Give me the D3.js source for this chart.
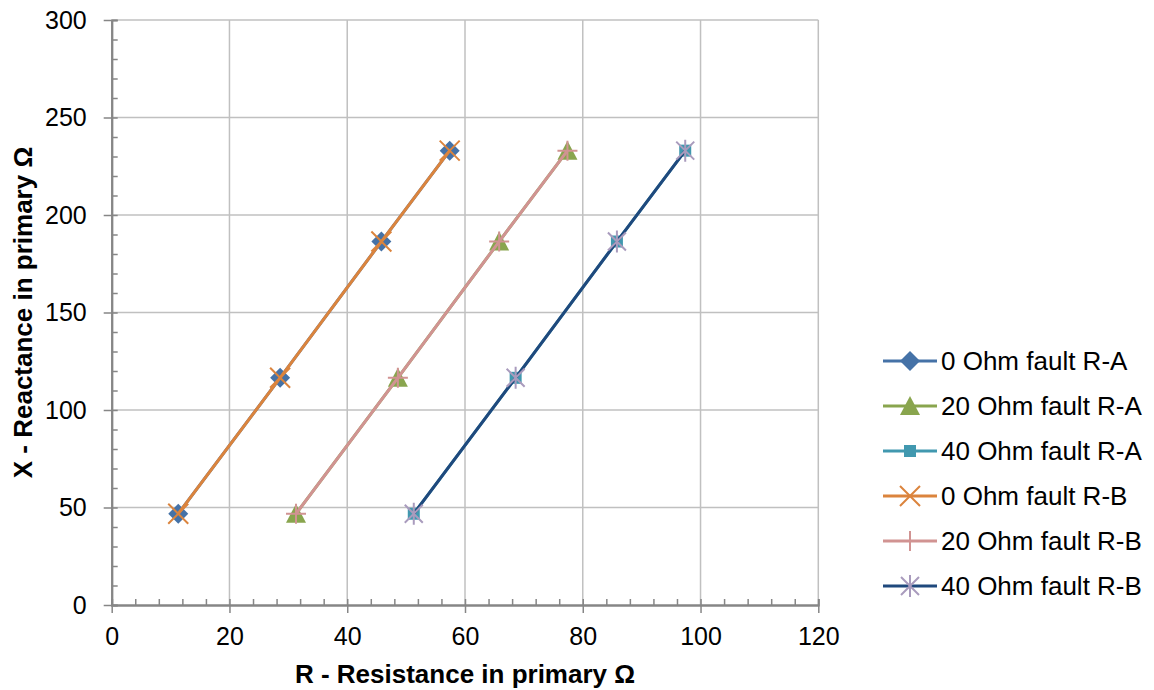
<!DOCTYPE html>
<html>
<head>
<meta charset="utf-8">
<title>Fault impedance R-X</title>
<script src="https://cdn.jsdelivr.net/npm/d3@7"></script>
<style>
  body { margin: 0; background: #fff; }
  text { font-family: "Liberation Sans", Arial, sans-serif; fill: #000; }
</style>
</head>
<body>
<div id="chart"></div>
<script>
// X reactance values shared by all measurement points
var xReact = [46.8, 116.5, 186.4, 233.0];

// resistance values per series
var r0A  = [11.3, 28.6, 45.8, 57.4];
var r20A = [31.3, 48.6, 65.8, 77.4];
var r40A = [51.3, 68.6, 85.8, 97.4];
var r0B  = [11.3, 28.6, 45.8, 57.4];
var r20B = [31.3, 48.6, 65.8, 77.4];
var r40B = [51.3, 68.6, 85.8, 97.4];

var seriesNames = ["0 Ohm fault R-A", "20 Ohm fault R-A", "40 Ohm fault R-A",
                   "0 Ohm fault R-B", "20 Ohm fault R-B", "40 Ohm fault R-B"];
var seriesR = [r0A, r20A, r40A, r0B, r20B, r40B];
var lineColors   = ["#4572A7", "#89A54E", "#4198AF", "#DB843D", "#D19392", "#1F497D"];
var markerColors = ["#4572A7", "#89A54E", "#4198AF", "#DB843D", "#D19392", "#A99BBD"];
var markerTypes  = ["diamond", "triangle", "square", "x", "plus", "star"];

var xMajor = [0, 20, 40, 60, 80, 100, 120];
var yMajor = [0, 50, 100, 150, 200, 250, 300];

var width = 1154, height = 690;
var plotL = 111.7, plotR = 818.3, plotT = 20, plotB = 605;

var svg = d3.select("#chart").append("svg")
    .attr("width", width)
    .attr("height", height);

var x = d3.scaleLinear().domain([0, 120]).range([plotL, plotR]);
var y = d3.scaleLinear().domain([0, 300]).range([plotB, plotT]);

// gridlines
svg.append("g").selectAll("line")
    .data(xMajor.filter(function(d) { return d > 0; }))
  .enter().append("line")
    .attr("x1", function(d) { return x(d); })
    .attr("x2", function(d) { return x(d); })
    .attr("y1", plotT).attr("y2", plotB)
    .style("stroke", "#c0c0c0").style("stroke-width", 1.5);
svg.append("g").selectAll("line")
    .data(yMajor.filter(function(d) { return d > 0; }))
  .enter().append("line")
    .attr("x1", plotL).attr("x2", plotR)
    .attr("y1", function(d) { return y(d); })
    .attr("y2", function(d) { return y(d); })
    .style("stroke", "#c0c0c0").style("stroke-width", 1.5);

// minor ticks (inside)
var xMinor = d3.range(0, 121, 4).filter(function(d) { return d % 20 != 0; });
var yMinor = d3.range(0, 301, 10).filter(function(d) { return d % 50 != 0; });

var axisColor = "#868686";

var xAxisMinor = svg.append("g")
    .attr("transform", "translate(0," + plotB + ")")
    .call(d3.axisTop(x).tickValues(xMinor).tickSize(6).tickFormat(""));
var yAxisMinor = svg.append("g")
    .attr("transform", "translate(" + plotL + ",0)")
    .call(d3.axisRight(y).tickValues(yMinor).tickSize(6).tickFormat(""));

// major ticks crossing the axis
var xAxis = svg.append("g")
    .attr("transform", "translate(0," + plotB + ")")
    .call(d3.axisBottom(x).tickValues(xMajor).tickSizeInner(8).tickSizeOuter(0).tickPadding(14));
var yAxis = svg.append("g")
    .attr("transform", "translate(" + plotL + ",0)")
    .call(d3.axisLeft(y).tickValues(yMajor).tickSizeInner(8).tickSizeOuter(0).tickPadding(17));

[xAxisMinor, yAxisMinor, xAxis, yAxis].forEach(function(g) {
    g.selectAll("line").style("stroke", axisColor).style("stroke-width", 1.5);
    g.select(".domain").style("stroke", axisColor).style("stroke-width", 2);
    g.selectAll("text").style("font-size", "25px").style("fill", "#000")
        .style("font-family", "'Liberation Sans', Arial, sans-serif");
});
// major ticks also poke a little into the plot
xAxis.selectAll(".tick").append("line").attr("y2", -6)
    .style("stroke", axisColor).style("stroke-width", 1.5);
yAxis.selectAll(".tick").append("line").attr("x2", 6)
    .style("stroke", axisColor).style("stroke-width", 1.5);

// axis titles
svg.append("text")
    .attr("x", (plotL + plotR) / 2).attr("y", 683)
    .attr("text-anchor", "middle")
    .style("font-size", "26px").style("font-weight", "bold")
    .text("R - Resistance in primary Ω");
svg.append("text")
    .attr("transform", "translate(32," + (plotT + plotB) / 2 + ") rotate(-90)")
    .attr("text-anchor", "middle")
    .style("font-size", "26px").style("font-weight", "bold")
    .text("X - Reactance in primary Ω");

function drawMarker(g, type, color) {
    if (type == "diamond") {
        g.append("path").attr("d", "M0,-10L10,0L0,10L-10,0Z").style("fill", color);
    } else if (type == "triangle") {
        g.append("path").attr("d", "M0,-10L10,9L-10,9Z").style("fill", color);
    } else if (type == "square") {
        g.append("rect").attr("x", -6).attr("y", -6).attr("width", 12).attr("height", 12)
            .style("fill", color);
    } else if (type == "x") {
        g.append("path").attr("d", "M-10,-10L10,10M-10,10L10,-10")
            .style("stroke", color).style("stroke-width", 2).style("fill", "none");
    } else if (type == "plus") {
        g.append("path").attr("d", "M-10,0L10,0M0,-10L0,10")
            .style("stroke", color).style("stroke-width", 2).style("fill", "none");
    } else if (type == "star") {
        g.append("path").attr("d", "M-9,-9L9,9M-9,9L9,-9M0,-11L0,11")
            .style("stroke", color).style("stroke-width", 2).style("fill", "none");
    }
}

var line = d3.line()
    .x(function(d) { return x(d[0]); })
    .y(function(d) { return y(d[1]); });

seriesR.forEach(function(rs, i) {
    var pts = rs.map(function(r, k) { return [r, xReact[k]]; });
    var g = svg.append("g");
    g.append("path").datum(pts)
        .attr("d", line)
        .style("fill", "none")
        .style("stroke", lineColors[i])
        .style("stroke-width", 3);
    pts.forEach(function(p) {
        var m = g.append("g").attr("transform", "translate(" + x(p[0]) + "," + y(p[1]) + ")");
        drawMarker(m, markerTypes[i], markerColors[i]);
    });
});

// legend
var legend = svg.append("g").selectAll("g")
    .data(seriesNames)
  .enter().append("g")
    .attr("transform", function(d, i) { return "translate(883," + (361 + i * 45) + ")"; });
legend.append("line")
    .attr("x1", 0).attr("x2", 54)
    .style("stroke", function(d, i) { return lineColors[i]; })
    .style("stroke-width", 3);
legend.each(function(d, i) {
    var m = d3.select(this).append("g").attr("transform", "translate(27,0)");
    drawMarker(m, markerTypes[i], markerColors[i]);
});
legend.append("text")
    .attr("x", 58).attr("dy", "0.36em")
    .style("font-size", "26px")
    .text(function(d) { return d; });
</script>
</body>
</html>
